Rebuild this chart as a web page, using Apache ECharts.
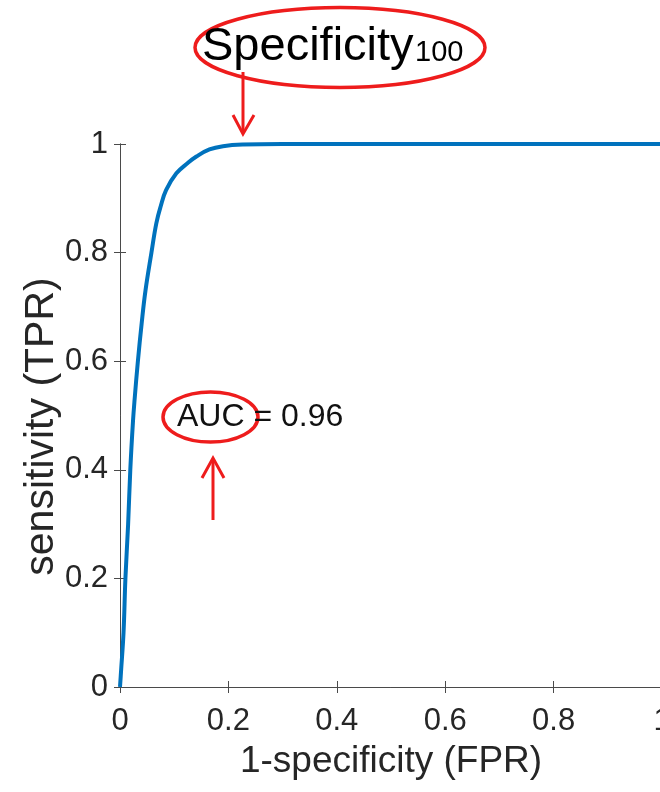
<!DOCTYPE html>
<html><head><meta charset="utf-8">
<script src="https://cdn.jsdelivr.net/npm/echarts@6/dist/echarts.min.js"></script>
<style>html,body{margin:0;padding:0;background:#fff}#c{width:660px;height:792px}</style>
</head><body><div id="c"></div>
<script>
// ROC curve
const fpr = [0, 0.002, 0.0065, 0.010, 0.015, 0.019, 0.024, 0.027, 0.033, 0.040, 0.047, 0.058, 0.067, 0.075, 0.085, 0.104, 0.125, 0.141, 0.165, 0.19, 0.226, 0.3, 0.4, 0.6, 0.8, 1.0];
const tpr = [0, 0.03, 0.10, 0.20, 0.30, 0.40, 0.49, 0.53, 0.60, 0.67, 0.73, 0.80, 0.854, 0.885, 0.915, 0.946, 0.965, 0.977, 0.990, 0.996, 0.999, 1, 1, 1, 1, 1];
const xTicks = [0, 0.2, 0.4, 0.6, 0.8, 1];
const yTicks = [0, 0.2, 0.4, 0.6, 0.8, 1];
const aucValue = 0.96;
const xTitle = '1-specificity (FPR)';
const yTitle = 'sensitivity (TPR)';
const topLabel = 'Specificity';
const topSub = '100';

const FONT = '"Liberation Sans", Arial, sans-serif';
const RED = '#ee1c1c';
const AX = '#4a4a4a';
const TXT = '#262626';

const chart = echarts.init(document.getElementById('c'), null, {renderer: 'canvas'});

function axisBase(extra) {
  return Object.assign({
    type: 'value', min: xTicks[0], max: xTicks[xTicks.length - 1], interval: xTicks[1] - xTicks[0],
    axisLine: {show: true, lineStyle: {color: AX, width: 1}},
    axisTick: {show: true, inside: true, length: 6, lineStyle: {color: AX, width: 1}},
    splitLine: {show: false}
  }, extra);
}

chart.setOption({
  animation: false,
  backgroundColor: '#fff',
  grid: {left: 120, top: 144, width: 542, height: 543, containLabel: false, outerBoundsMode: 'none'},
  xAxis: [
    axisBase({
      position: 'bottom',
      axisLabel: {fontSize: 31, fontFamily: FONT, color: TXT, margin: 19},
      name: xTitle, nameLocation: 'middle', nameGap: 56,
      nameTextStyle: {fontSize: 37, fontFamily: FONT, color: TXT}
    }),
    axisBase({position: 'top', axisLabel: {show: false}})
  ],
  yAxis: [
    axisBase({
      min: yTicks[0], max: yTicks[yTicks.length - 1], interval: yTicks[1] - yTicks[0],
      position: 'left',
      axisLabel: {fontSize: 31, fontFamily: FONT, color: TXT, margin: 12, padding: [9, 0, 0, 0]},
      name: yTitle, nameLocation: 'middle', nameGap: 58, nameMoveOverlap: false,
      nameTextStyle: {fontSize: 41, fontFamily: FONT, color: TXT, padding: [0, 22, 0, 0]}
    }),
    axisBase({
      min: yTicks[0], max: yTicks[yTicks.length - 1], interval: yTicks[1] - yTicks[0],
      position: 'right', axisLabel: {show: false}
    })
  ],
  series: [{
    type: 'line',
    data: fpr.map((x, i) => [x, tpr[i]]),
    showSymbol: false,
    smooth: 0.4,
    clip: false,
    silent: true,
    lineStyle: {color: '#0072bd', width: 4}
  }],
  graphic: [
    // Specificity label with ellipse and arrow
    {type: 'ellipse', shape: {cx: 340, cy: 47.5, rx: 145, ry: 40}, style: {fill: 'none', stroke: RED, lineWidth: 3.5}, z: 100},
    {type: 'text', x: 202, y: 47, style: {text: topLabel, font: '47px ' + FONT, fill: '#000', align: 'left', verticalAlign: 'middle'}, z: 101},
    {type: 'text', x: 415, y: 53, style: {text: topSub, font: '29px ' + FONT, fill: '#000', align: 'left', verticalAlign: 'middle'}, z: 101},
    {type: 'line', shape: {x1: 243, y1: 72, x2: 243, y2: 133}, style: {stroke: RED, lineWidth: 3}, z: 100},
    {type: 'polyline', shape: {points: [[233, 115], [243, 134], [254, 115]]}, style: {stroke: RED, lineWidth: 3, fill: 'none'}, z: 100},
    // AUC label with ellipse and arrow
    {type: 'text', x: 177, y: 417, style: {text: 'AUC = ' + aucValue.toFixed(2), font: '32px ' + FONT, fill: '#111', align: 'left', verticalAlign: 'middle'}, z: 101},
    {type: 'ellipse', shape: {cx: 210.5, cy: 417, rx: 47.5, ry: 25}, style: {fill: 'none', stroke: RED, lineWidth: 3.5}, z: 100},
    {type: 'line', shape: {x1: 213, y1: 459, x2: 213, y2: 520}, style: {stroke: RED, lineWidth: 3}, z: 100},
    {type: 'polyline', shape: {points: [[202, 478], [213, 458], [224, 478]]}, style: {stroke: RED, lineWidth: 3, fill: 'none'}, z: 100}
  ]
});
</script>
</body></html>
